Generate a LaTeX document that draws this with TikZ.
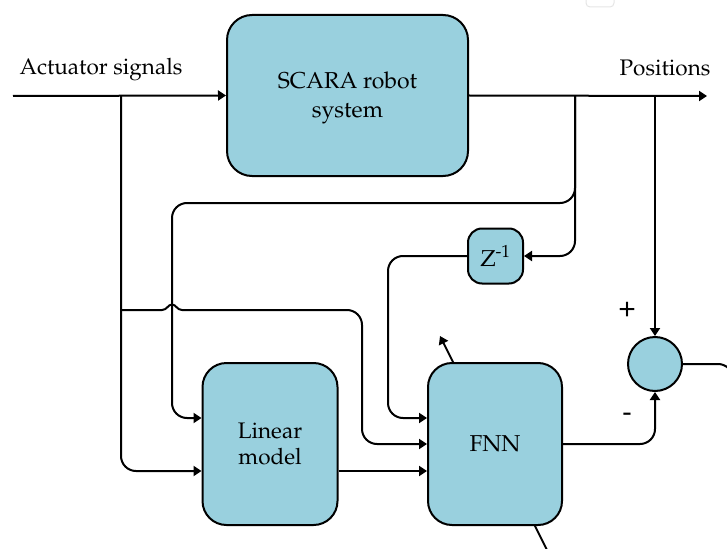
\documentclass[tikz,border=0pt]{standalone}
\usepackage[T1]{fontenc}
\usepackage{mathpazo}
\usepackage{helvet}
\usetikzlibrary{arrows.meta,backgrounds}

\definecolor{blockfill}{RGB}{153,208,222}

\tikzset{
  block/.style={draw=black, line width=2pt, fill=blockfill, rounded corners=25pt,
    align=center, inner sep=0pt, font=\fontsize{23}{29}\selectfont},
  sumnode/.style={draw=black, line width=2pt, fill=blockfill, circle,
    minimum size=54pt, inner sep=0pt},
  wire/.style={line width=2pt, rounded corners=15pt},
  arr/.style={wire, -{Triangle[length=8pt,width=10pt]}},
  lbl/.style={inner sep=0pt, font=\fontsize{22.5}{28}\selectfont},
  sign/.style={inner sep=0pt, font=\sffamily\fontsize{30}{34}\selectfont}
}

\begin{document}
\begin{tikzpicture}[x=1pt,y=-1pt]
\useasboundingbox (0,0) rectangle (727,548);

% faint tab at the top edge
\draw[black!10, line width=1pt, rounded corners=4pt] (586,-10) rectangle (614,7);

% blocks (the strut in the first line lowers the two-line label slightly)
\node[block, minimum width=241pt, minimum height=161pt] (scara) at (347.5,95.5) {\rule{0pt}{22pt}SCARA robot\\system};
\node[block, minimum width=135pt, minimum height=162pt, rounded corners=24pt, font=\fontsize{22.5}{26}\selectfont] (lin) at (270,444) {Linear\\model};
\node[block, minimum width=134pt, minimum height=162pt, rounded corners=24pt] (fnn) at (495,444) {FNN};
\node[block, minimum width=55pt, minimum height=55pt, rounded corners=14pt] (zd) at (495.5,256) {Z\textsuperscript{-1}};
\node[sumnode] (sum) at (655,364) {};

% labels
\node[lbl] (lact) at (101,70) {Actuator signals};
\node[lbl] (lpos) at (665,68) {Positions};
\node[sign] (lplus) at (627,309) {+};
\node[sign] (lminus) at (627,418) {-};

% junction and end points
\coordinate (in) at (13,96);
\coordinate (out) at (707,96);
\coordinate (ja) at (121,96);
\coordinate (jb) at (121,310);
\coordinate (jc) at (575,96);
\coordinate (jd) at (655,96);
\coordinate (rend) at (733,364);
\coordinate (tipA) at (440,336);
\coordinate (tailA) at (552,560);

% learning arrow through the FNN
\begin{pgfonlayer}{background}
  \draw[line width=2pt, -{Triangle[length=8pt,width=10pt]}] (tailA) -- (tipA);
\end{pgfonlayer}

% main signal line
\draw[arr] (in) -- (scara.west);
\draw[arr] (scara.east) -- (out);

% actuator signals into the models
\draw[arr] (ja) |- ([yshift=-27pt]lin.west);
\draw[line width=2pt] (jb) -- (162,310)
  .. controls (167,310) and (168,304.5) .. (172,304.5)
  .. controls (176,304.5) and (177,310) .. (182,310);
\draw[arr] (182,310) -- (362,310) |- (fnn.west);

% positions fed back to the models
\draw[arr] (jc) -- (575,203) -| (172,418) -- ([yshift=26pt]lin.west);
\draw[arr] (jc) |- (zd.east);
\draw[arr] (zd.west) -| (388,418) -- ([yshift=26pt]fnn.west);

% linear model into the FNN
\draw[arr] ([yshift=-27pt]lin.east) -- ([yshift=-27pt]fnn.west);

% summing junction
\draw[arr] (jd) -- (sum.north);
\draw[arr] (fnn.east) -| (sum.south);
\draw[wire] (sum.east) -- (rend) -- (733,420);
\end{tikzpicture}
\end{document}
